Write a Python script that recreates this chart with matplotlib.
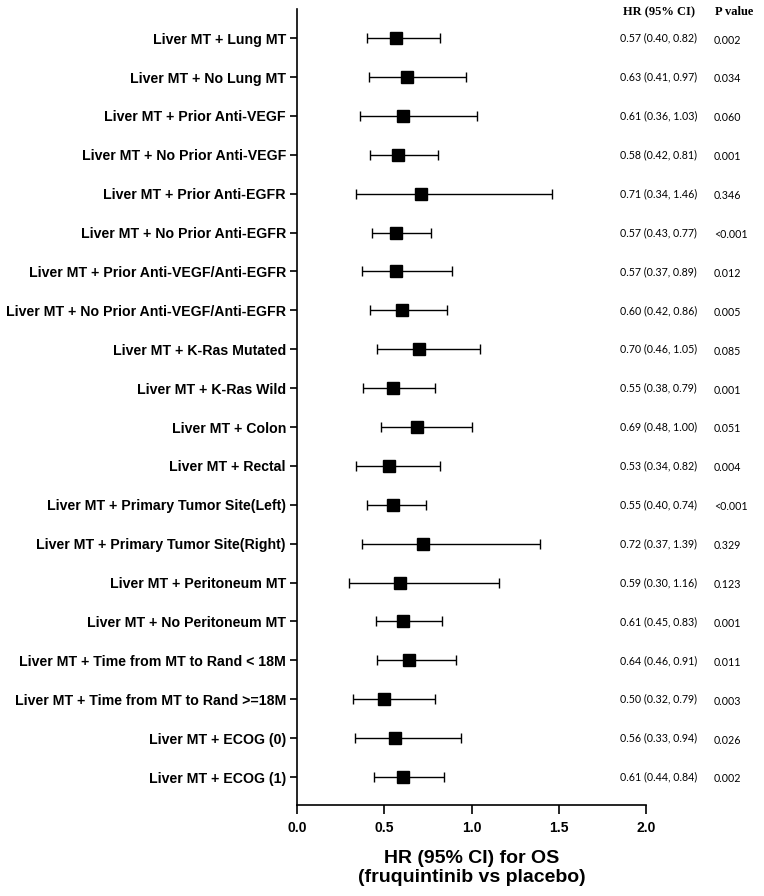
import matplotlib.pyplot as plt
import numpy as np

labels = [
    'Liver MT + Lung MT',
    'Liver MT + No Lung MT',
    'Liver MT + Prior Anti-VEGF',
    'Liver MT + No Prior Anti-VEGF',
    'Liver MT + Prior Anti-EGFR',
    'Liver MT + No Prior Anti-EGFR',
    'Liver MT + Prior Anti-VEGF/Anti-EGFR',
    'Liver MT + No Prior Anti-VEGF/Anti-EGFR',
    'Liver MT + K-Ras Mutated',
    'Liver MT + K-Ras Wild',
    'Liver MT + Colon',
    'Liver MT + Rectal',
    'Liver MT + Primary Tumor Site(Left)',
    'Liver MT + Primary Tumor Site(Right)',
    'Liver MT + Peritoneum MT',
    'Liver MT + No Peritoneum MT',
    'Liver MT + Time from MT to Rand < 18M',
    'Liver MT + Time from MT to Rand >=18M',
    'Liver MT + ECOG (0)',
    'Liver MT + ECOG (1)',
]
hr = [0.57, 0.63, 0.61, 0.58, 0.71, 0.57, 0.57, 0.60, 0.70, 0.55,
      0.69, 0.53, 0.55, 0.72, 0.59, 0.61, 0.64, 0.50, 0.56, 0.61]
lo = [0.40, 0.41, 0.36, 0.42, 0.34, 0.43, 0.37, 0.42, 0.46, 0.38,
      0.48, 0.34, 0.40, 0.37, 0.30, 0.45, 0.46, 0.32, 0.33, 0.44]
hi = [0.82, 0.97, 1.03, 0.81, 1.46, 0.77, 0.89, 0.86, 1.05, 0.79,
      1.00, 0.82, 0.74, 1.39, 1.16, 0.83, 0.91, 0.79, 0.94, 0.84]
pvals = ['0.002', '0.034', '0.060', '0.001', '0.346', '<0.001', '0.012', '0.005', '0.085', '0.001',
         '0.051', '0.004', '<0.001', '0.329', '0.123', '0.001', '0.011', '0.003', '0.026', '0.002']

hr = np.array(hr)
lo = np.array(lo)
hi = np.array(hi)
n = len(labels)
y = np.arange(n, 0, -1)

fig = plt.figure(figsize=(7.64, 8.96), dpi=100)
# axes box: x from 297 to 646 px, y from 9 to 805 px (top-left origin)
ax = fig.add_axes([297 / 764, 91 / 896, 349 / 764, 796 / 896])

ax.errorbar(hr, y, xerr=[hr - lo, hi - hr], fmt='s', color='black', ecolor='black',
            markersize=9, elinewidth=1, capsize=3.3, capthick=1)

ax.set_xlim(0, 2.0)
ax.set_ylim(1 - 0.72, n + 0.75)
ax.set_xticks([0.0, 0.5, 1.0, 1.5, 2.0])
ax.set_xticklabels(['0.0', '0.5', '1.0', '1.5', '2.0'], fontsize=10, fontweight='bold',
                   family='Liberation Sans')
ax.set_yticks(y)
ax.set_yticklabels(labels, fontsize=10.2, fontweight='bold', family='Liberation Sans')
ax.tick_params(axis='y', direction='out', length=5, width=1.2, pad=3)
ax.tick_params(axis='x', direction='out', length=6.5, width=1.2, pad=5)
for s in ['top', 'right']:
    ax.spines[s].set_visible(False)
for s in ['left', 'bottom']:
    ax.spines[s].set_linewidth(1.2)

ax.set_xlabel('HR (95% CI) for OS\n(fruquintinib vs placebo)', fontsize=14, fontweight='bold',
              family='Liberation Sans', linespacing=1.15)
ax.xaxis.set_label_coords(0.5, -(850 - 805) / 796)

# text columns on the right
x_hr = (620 - 297) / 174.5
x_p = (714 - 297) / 174.5
for yi, h, l, u, p in zip(y, hr, lo, hi, pvals):
    ax.text(x_hr, yi, f'{h:.2f} ({l:.2f}, {u:.2f})', fontsize=7.7, family='Lato',
            va='center', ha='left', clip_on=False)
    ax.text(x_p, yi - 0.05, p, fontsize=7.7, family='Lato', va='center', ha='left', clip_on=False)

fig.text(623 / 764, 1 - 12 / 896, 'HR (95% CI)', fontsize=9, fontweight='bold',
         family='Liberation Serif', va='center', ha='left')
fig.text(715 / 764, 1 - 12 / 896, 'P value', fontsize=9, fontweight='bold',
         family='Liberation Serif', va='center', ha='left')

fig.savefig('out.png', dpi=100)
